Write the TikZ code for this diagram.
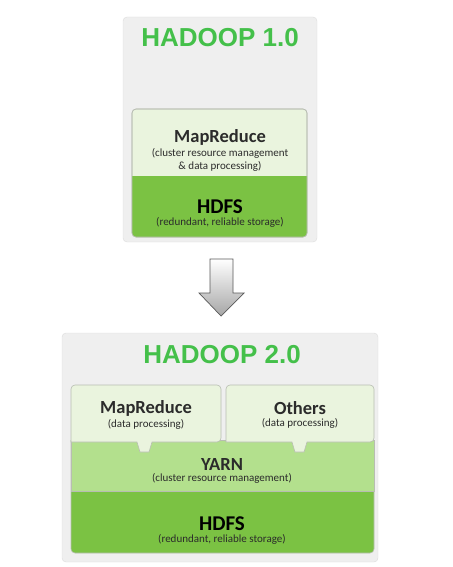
\documentclass[tikz,border=0pt]{standalone}
\usepackage{fontspec}
\setmainfont{Carlito}
\newfontfamily\titlefont{Liberation Sans}
\usetikzlibrary{positioning}

\definecolor{panelgray}{HTML}{EFEFEF}
\definecolor{panelline}{HTML}{DCDCDC}
\definecolor{titlegreen}{HTML}{44C04A}
\definecolor{lightbox}{HTML}{EAF4DE}
\definecolor{yarngreen}{HTML}{B3E08D}
\definecolor{hdfsgreen}{HTML}{7BC243}
\definecolor{boxline}{HTML}{B8BDB2}
\definecolor{textgray}{HTML}{2B2B2B}

\tikzset{
  panel/.style = {fill=panelgray, draw=panelline, rounded corners=4},
  layer/.style = {draw=boxline, line width=0.6pt},
  hadooptitle/.style = {font=\titlefont\bfseries\fontsize{26}{28}\selectfont, text=titlegreen},
  boxname/.style = {font=\bfseries\fontsize{18.5}{20}\selectfont, text=textgray},
  hdfsname/.style = {font=\bfseries\fontsize{21}{22}\selectfont, text=black},
  boxsub/.style = {font=\fontsize{11}{12.5}\selectfont, text=textgray, align=center}
}

\begin{document}
\begin{tikzpicture}[x=1pt, y=-1pt]

    \useasboundingbox (0,0) rectangle (452,567);

    % Hadoop 1.0
    \draw[panel] (123,17) rectangle (317,242);
    \node[hadooptitle] (title1) at (220,38) {HADOOP 1.0};

    \draw[layer, fill=lightbox, rounded corners=4] (132,109) rectangle (307,237);
    \fill[hdfsgreen] (132,176) [rounded corners=4]-- (132,237) -- (307,237) [sharp corners]-- (307,176) -- cycle;
    \draw[layer, rounded corners=4] (132,109) rectangle (307,237);

    \node[boxname] (mr1) at (220,137) {MapReduce};
    \node[boxsub, below=-3.5pt of mr1] (mr1sub) {(cluster resource management\\\& data processing)};
    \node[hdfsname] (hdfs1) at (220,207) {HDFS};
    \node[boxsub, below=-3.5pt of hdfs1] (hdfs1sub) {(redundant, reliable storage)};

    % the arrow between
    \draw[draw=black!65, line width=0.7pt, top color=white, bottom color=black!35]
        (210,259) -- (233,259) -- (233,293) -- (244,293) -- (221,316)
        -- (199,293) -- (210,293) -- cycle;

    % Hadoop 2.0
    \draw[panel] (62,333) rectangle (378,562);
    \node[hadooptitle] (title2) at (222,355) {HADOOP 2.0};

    \fill[hdfsgreen] (71,490) [rounded corners=4]-- (71,553) -- (374,553) [sharp corners]-- (374,490) -- cycle;
    \draw[layer] (71,440) [rounded corners=4]-- (71,553) -- (374,553) [sharp corners]-- (374,440);
    \draw[layer, fill=yarngreen] (71,440) rectangle (374,491);

    \draw[layer, fill=lightbox] (137,442) -- (140,452) -- (149,452) -- (152,442)
        [rounded corners=4]-- (221,442) -- (221,385) -- (71,385) [sharp corners]-- (71,442) -- cycle;
    \draw[layer, fill=lightbox] (292,442) -- (295,452) -- (304,452) -- (307,442)
        [rounded corners=4]-- (374,442) -- (374,385) -- (226,385) [sharp corners]-- (226,442) -- cycle;

    \node[boxname] (mr2) at (146,408) {MapReduce};
    \node[boxsub, below=-3.5pt of mr2] (mr2sub) {(data processing)};
    \node[boxname] (others) at (300,408) {Others};
    \node[boxsub, below=-3.5pt of others] (otherssub) {(data processing)};
    \node[boxname] (yarn) at (222,464) {YARN};
    \node[boxsub, below=-3.5pt of yarn] (yarnsub) {(cluster resource management)};
    \node[hdfsname] (hdfs2) at (222,524) {HDFS};
    \node[boxsub, below=-3.5pt of hdfs2] (hdfs2sub) {(redundant, reliable storage)};

\end{tikzpicture}
\end{document}
